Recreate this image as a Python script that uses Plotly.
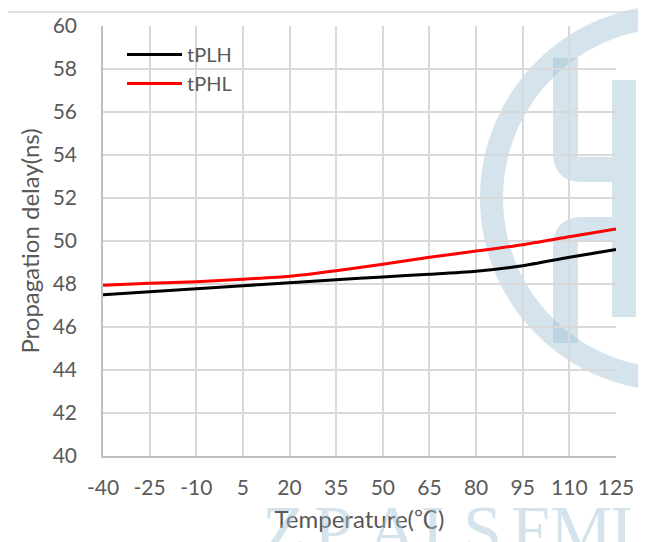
import numpy as np
import plotly.graph_objects as go

# ---- data ----
temperature = [-40, -25, -10, 5, 20, 35, 50, 65, 80, 95, 110, 125]
x_tick_labels = ["-40", "-25", "-10", "5", "20", "35", "50", "65", "80", "95", "110", "125"]
tPLH = [47.50, 47.64, 47.78, 47.92, 48.06, 48.20, 48.33, 48.45, 48.59, 48.85, 49.24, 49.60]
tPHL = [47.94, 48.03, 48.11, 48.22, 48.36, 48.62, 48.92, 49.24, 49.53, 49.83, 50.20, 50.56]
y_ticks = list(range(40, 61, 2))
watermark_letters = ["Z", "P", "A", "I", "S", "E", "M", "I", "C"]

# page body margin offset (browser default 8px)
OFF = 8
SW, SH = 646, 542            # screen size
W, H = SW - OFF, SH - OFF     # figure size
PL, PR, PT, PB = 103, 616, 26, 456   # plot area in screen pixels
L, T = PL - OFF, PT - OFF
R, B = W - (PR - OFF), H - (PB - OFF)
PW, PH = PR - PL, PB - PT

def px(x):
    return (x - PL) / PW

def py(y):
    return (PB - y) / PH

FONT = "Lato, 'Open Sans', sans-serif"
TXT = "#595959"
WM = "rgba(160,193,213,0.45)"

fig = go.Figure()
fig.add_trace(go.Scatter(x=temperature, y=tPLH, name="tPLH", mode="lines",
                         line=dict(color="black", width=3, shape="spline", smoothing=0.6)))
fig.add_trace(go.Scatter(x=temperature, y=tPHL, name="tPHL", mode="lines",
                         line=dict(color="#ff0000", width=3, shape="spline", smoothing=0.6)))

shapes = []

def poly_path(pts):
    return "M" + " L".join(f"{px(a):.5f},{py(b):.5f}" for a, b in pts) + " Z"

# ring watermark
cx, cy, ro, ri = 673, 198, 193, 170
t = np.linspace(0, 2 * np.pi, 181)
outer = [(cx + ro * np.cos(a), cy + ro * np.sin(a)) for a in t]
inner = [(cx + ri * np.cos(a), cy - ri * np.sin(a)) for a in t]
shapes.append(dict(type="path", xref="paper", yref="paper", layer="below",
                   path=poly_path(outer) + " " + poly_path(inner),
                   fillcolor=WM, line=dict(width=0), fillrule="evenodd"))

def quad(p0, c, p1, n=10):
    s = np.linspace(0, 1, n)
    return [((1 - u) ** 2 * p0[0] + 2 * (1 - u) * u * c[0] + u ** 2 * p1[0],
             (1 - u) ** 2 * p0[1] + 2 * (1 - u) * u * c[1] + u ** 2 * p1[1]) for u in s]

hook = [(553, 58), (578, 58), (578, 157), (612, 157), (612, 182), (583, 182)] + \
       quad((583, 182), (553, 182), (553, 152))
arch = [(553, 343)] + quad((553, 247), (553, 217), (583, 217)) + \
       [(612, 217), (612, 242), (578, 242), (578, 343)]
bar = [(612, 80), (636, 80), (636, 317), (612, 317)]
for pts in (hook, arch, bar):
    shapes.append(dict(type="path", xref="paper", yref="paper", layer="below",
                       path=poly_path(pts), fillcolor=WM, line=dict(width=0)))

# outer chart border (top and left)
shapes.append(dict(type="path", xref="paper", yref="paper", layer="below",
                   path=f"M{px(7)},{py(560)} L{px(7)},{py(12)} L{px(660)},{py(12)}",
                   line=dict(color="#d9d9d9", width=1.5)))

annotations = []
letter_x = [283, 333, 392, 432, 482, 532, 581, 621, 664]
for ch, lx in zip(watermark_letters, letter_x):
    annotations.append(dict(text=ch, x=px(lx), y=py(490), xref="paper", yref="paper",
                            xanchor="center", yanchor="top", showarrow=False,
                            font=dict(family="'Liberation Serif', serif", size=70, color=WM)))

x_title = "Temperature(<span style='font-family:\"Noto Sans CJK SC\"'>℃</span>)"

fig.update_layout(
    width=W, height=H,
    margin=dict(l=L, r=R, t=T, b=B, autoexpand=False),
    paper_bgcolor="white", plot_bgcolor="rgba(0,0,0,0)",
    font=dict(family=FONT, size=21, color=TXT),
    shapes=shapes, annotations=annotations,
    showlegend=True,
    legend=dict(x=px(122), y=py(35), xanchor="left", yanchor="top",
                bgcolor="rgba(0,0,0,0)", font=dict(size=20, color=TXT),
                itemwidth=55),
)
fig.update_xaxes(range=[-40, 125], tickvals=temperature, ticktext=x_tick_labels, showgrid=True,
                 gridcolor="#d9d9d9", gridwidth=1.5, showline=True, linecolor="#bfbfbf",
                 linewidth=1.5, zeroline=False, ticks="", ticklabelstandoff=12,
                 title=dict(text=x_title, standoff=13, font=dict(size=24)),
                 automargin=False)
fig.update_yaxes(range=[40, 60], tickvals=y_ticks, showgrid=True,
                 gridcolor="#d9d9d9", gridwidth=1.5, showline=True, linecolor="#bfbfbf",
                 linewidth=1.5, zeroline=False, ticks="", ticklabelstandoff=20,
                 title=dict(text="Propagation delay(ns)", standoff=6, font=dict(size=24)),
                 automargin=False)

fig.write_html("out.html")
